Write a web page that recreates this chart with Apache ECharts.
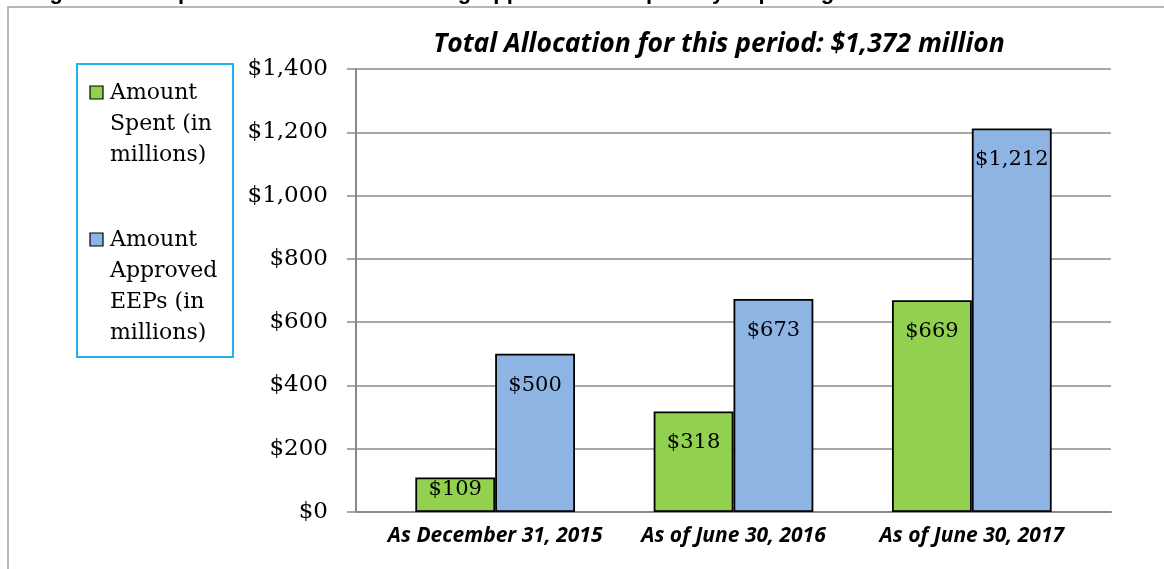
<!DOCTYPE html>
<html>
<head>
<meta charset="UTF-8">
<title>Total Allocation</title>
<script src="https://cdn.jsdelivr.net/npm/echarts@6/dist/echarts.min.js"></script>
<style>
  html, body { margin: 0; padding: 0; background: #fff; }
  #main { width: 1164px; height: 569px; }
</style>
</head>
<body>
<div id="main"></div>
<script type="text/javascript">
// data
var periods = ['As December 31, 2015', 'As of June 30, 2016', 'As of June 30, 2017'];
var spent = [109, 318, 669];
var approved = [500, 673, 1212];
var seriesNames = ['Amount Spent (in millions)', 'Amount Approved EEPs (in millions)'];
var yTicks = [0, 200, 400, 600, 800, 1000, 1200, 1400];

var serif = 'DejaVu Serif';
var axisGray = '#8a8a8a';
function money(v) {
  return '$' + v.toLocaleString('en-US');
}

// short bars keep their label pushed up against the top edge
function withLabels(values) {
  return values.map(function (v) {
    return { value: v, label: { distance: v < 200 ? 2 : 21 } };
  });
}

var myChart = echarts.init(document.getElementById('main'));

var barLabel = {
  show: true,
  position: 'insideTop',
  color: '#000',
  fontFamily: serif,
  fontSize: 21,
  formatter: function (p) { return money(p.value); }
};

var option = {
  animation: false,
  title: {
    text: 'Total Allocation for this period: $1,372 million',
    left: 714,
    top: 26,
    textAlign: 'center',
    textStyle: {
      fontFamily: 'Open Sans',
      fontStyle: 'italic',
      fontWeight: 'bold',
      fontSize: 26.5,
      color: '#000'
    }
  },
  grid: [
    { left: 356, right: 53, top: 69, bottom: 57 },   // gridlines + y axis
    { left: 376, right: 73, top: 69, bottom: 57 }    // bars + category labels
  ],
  xAxis: [
    {
      type: 'category',
      gridIndex: 0,
      data: periods,
      axisTick: { show: false },
      axisLabel: { show: false },
      axisLine: { lineStyle: { color: axisGray, width: 2 } }
    },
    {
      type: 'category',
      gridIndex: 1,
      data: periods,
      axisTick: { show: false },
      axisLine: { show: false },
      axisLabel: {
        interval: 0,
        hideOverlap: false,
        margin: 14,
        color: '#000',
        fontFamily: 'Open Sans',
        fontStyle: 'italic',
        fontWeight: 'bold',
        fontSize: 21
      }
    }
  ],
  yAxis: [
    {
      type: 'value',
      gridIndex: 0,
      min: yTicks[0],
      max: yTicks[yTicks.length - 1],
      interval: 200,
      axisLine: { show: true, lineStyle: { color: axisGray, width: 2 } },
      axisTick: { show: true, length: 9, lineStyle: { color: axisGray, width: 1.5 } },
      splitLine: { lineStyle: { color: axisGray, width: 1.5 } },
      axisLabel: {
        margin: 28,
        color: '#000',
        fontFamily: serif,
        fontSize: 23,
        formatter: function (v) { return money(v); }
      }
    },
    {
      type: 'value',
      gridIndex: 1,
      min: yTicks[0],
      max: yTicks[yTicks.length - 1],
      interval: 200,
      show: false,
      splitLine: { show: false }
    }
  ],
  series: [
    {
      name: seriesNames[0],
      type: 'bar',
      xAxisIndex: 1,
      yAxisIndex: 1,
      data: withLabels(spent),
      barGap: '0%',
      barCategoryGap: '33%',
      itemStyle: { color: '#92D050', borderColor: '#000', borderWidth: 1.8 },
      label: barLabel
    },
    {
      name: seriesNames[1],
      type: 'bar',
      xAxisIndex: 1,
      yAxisIndex: 1,
      data: withLabels(approved),
      itemStyle: { color: '#8EB4E3', borderColor: '#000', borderWidth: 1.8 },
      label: barLabel
    }
  ],
  graphic: [
    // outer frame of the figure
    {
      type: 'rect',
      shape: { x: 8, y: 7, width: 1200, height: 600 },
      style: { fill: 'none', stroke: '#a0a0a0', lineWidth: 1.5 },
      silent: true
    },
    // figure caption, cut off at the top
    {
      type: 'text',
      left: 30,
      top: -18,
      style: {
        text: 'Figure 3: Prospective Cumulative Funding Approved and Spent by Reporting Period',
        fontFamily: 'Liberation Sans',
        fontWeight: 'bold',
        fontSize: 22,
        fill: '#000'
      }
    },
    // legend box
    {
      type: 'rect',
      shape: { x: 77, y: 64, width: 156, height: 293 },
      style: { fill: '#fff', stroke: '#1fb4ec', lineWidth: 2 }
    },
    {
      type: 'rect',
      shape: { x: 90, y: 86, width: 13, height: 13 },
      style: { fill: '#92D050', stroke: '#000', lineWidth: 1.2 }
    },
    {
      type: 'text',
      x: 110,
      y: 78,
      style: {
        text: 'Amount\nSpent (in\nmillions)',
        fontFamily: serif,
        fontSize: 22,
        lineHeight: 31,
        fill: '#000'
      }
    },
    {
      type: 'rect',
      shape: { x: 90, y: 233, width: 13, height: 13 },
      style: { fill: '#8EB4E3', stroke: '#000', lineWidth: 1.2 }
    },
    {
      type: 'text',
      x: 110,
      y: 225,
      style: {
        text: 'Amount\nApproved\nEEPs (in\nmillions)',
        fontFamily: serif,
        fontSize: 22,
        lineHeight: 31,
        fill: '#000'
      }
    }
  ]
};

myChart.setOption(option);
</script>
</body>
</html>
